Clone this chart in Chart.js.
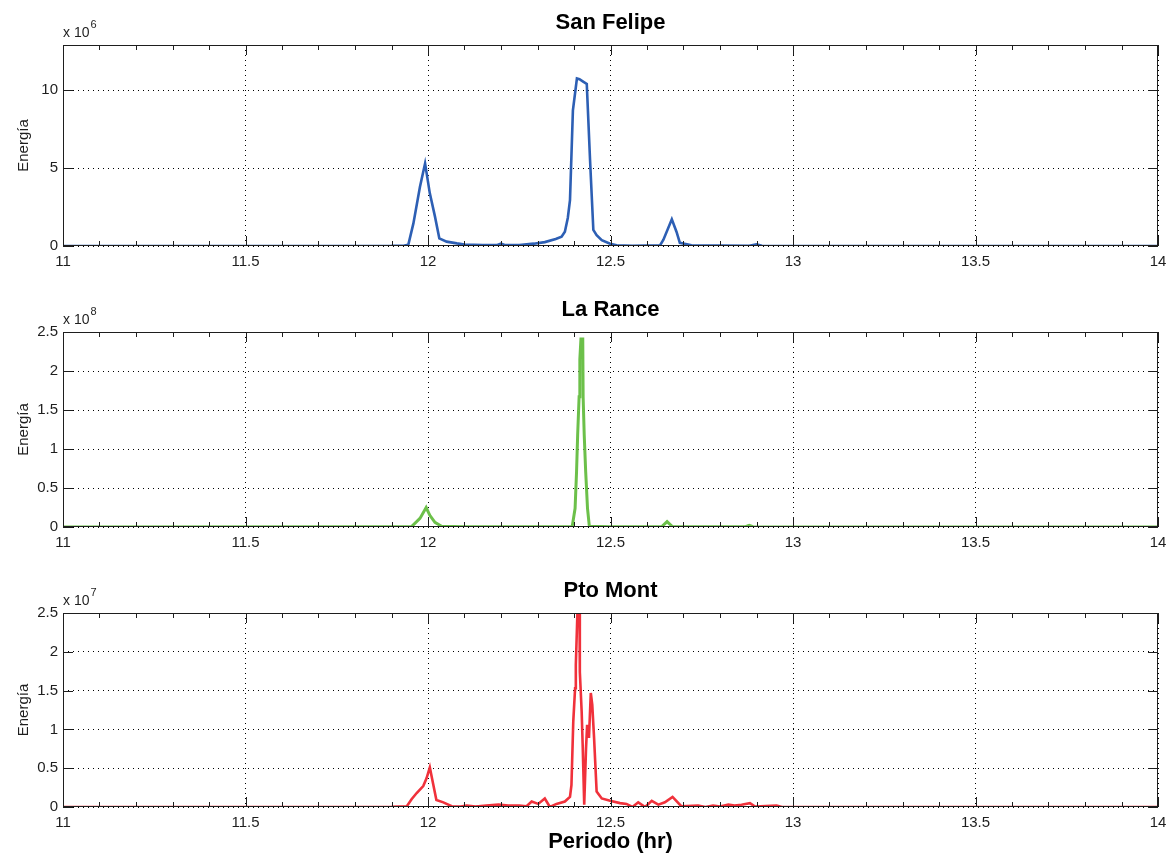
<!DOCTYPE html>
<html lang="es">
<head>
    <meta charset="UTF-8">
    <title>Energía vs Periodo</title>
    <script src="https://cdn.jsdelivr.net/npm/chart.js"></script>
    <style>
        body { margin: 0; background: #fff; }
        #figure { position: relative; width: 1166px; height: 855px; }
        .panel { position: absolute; left: 0; width: 1166px; height: 285px; }
    </style>
</head>
<body>
<div id="figure">
    <div class="panel" style="top:0px"><canvas id="sanFelipe"></canvas></div>
    <div class="panel" style="top:285px"><canvas id="laRance"></canvas></div>
    <div class="panel" style="top:570px"><canvas id="ptoMont"></canvas></div>
</div>

<script>
    // Periodo (hr) / Energía
    const periodSanFelipe = [11.00, 11.50, 11.90, 11.935, 11.946, 11.960, 11.978, 11.992, 12.005, 12.019,
        12.031, 12.051, 12.079, 12.100, 12.150, 12.190, 12.200, 12.210, 12.250, 12.290,
        12.320, 12.350, 12.366, 12.375, 12.383, 12.389, 12.397, 12.408, 12.415, 12.425,
        12.435, 12.444, 12.453, 12.462, 12.476, 12.499, 12.517, 12.560, 12.636, 12.645,
        12.668, 12.681, 12.690, 12.722, 12.880, 12.900, 12.915, 13.000, 14.00];
    // x 10^6
    const energySanFelipe = [0, 0, 0.01, 0.03, 0.07, 1.45, 3.8, 5.3, 3.38, 1.9,
        0.49, 0.28, 0.17, 0.1, 0.06, 0.06, 0.15, 0.06, 0.06, 0.15,
        0.25, 0.45, 0.6, 0.92, 1.8, 2.95, 8.7, 10.75, 10.7, 10.55,
        10.4, 5.5, 1.03, 0.7, 0.38, 0.15, 0.05, 0.02, 0.05, 0.4,
        1.71, 0.9, 0.2, 0.05, 0.02, 0.1, 0.02, 0, 0];

    const periodLaRance = [11.00, 11.90, 11.955, 11.978, 11.995, 12.005, 12.019, 12.037, 12.100, 12.395,
        12.403, 12.407, 12.410, 12.414, 12.416, 12.419, 12.424, 12.425, 12.428, 12.432,
        12.437, 12.442, 12.500, 12.640, 12.655, 12.670, 12.870, 12.880, 12.890, 14.00];
    // x 10^8
    const energyLaRance = [0, 0.002, 0.005, 0.11, 0.25, 0.15, 0.06, 0.01, 0.003, 0.003,
        0.24, 0.71, 1.18, 1.67, 2.15, 2.41, 2.41, 1.67, 1.18, 0.71,
        0.24, 0.01, 0.003, 0.003, 0.07, 0.003, 0.003, 0.02, 0.003, 0];

    const periodPtoMont = [11.00, 11.90, 11.942, 11.955, 11.969, 11.987, 11.996, 12.005, 12.014, 12.023,
        12.042, 12.065, 12.090, 12.106, 12.130, 12.160, 12.193, 12.220, 12.250, 12.270,
        12.284, 12.302, 12.320, 12.334, 12.352, 12.375, 12.384, 12.389, 12.393, 12.398,
        12.403, 12.405, 12.410, 12.415, 12.416, 12.421, 12.424, 12.428, 12.433, 12.436,
        12.441, 12.446, 12.450, 12.455, 12.462, 12.476, 12.499, 12.526, 12.544, 12.560,
        12.576, 12.595, 12.613, 12.631, 12.649, 12.670, 12.694, 12.740, 12.760, 12.781,
        12.800, 12.823, 12.840, 12.859, 12.882, 12.896, 12.955, 12.970, 14.00];
    // x 10^7
    const energyPtoMont = [0, 0.003, 0.01, 0.1, 0.18, 0.27, 0.37, 0.51, 0.3, 0.09,
        0.06, 0.01, 0.005, 0.02, 0.005, 0.02, 0.03, 0.02, 0.02, 0.01,
        0.07, 0.04, 0.11, 0.0, 0.04, 0.07, 0.11, 0.13, 0.28, 1.1,
        1.53, 1.83, 2.6, 2.6, 1.74, 1.23, 0.76, 0.03, 0.76, 1.06,
        0.89, 1.47, 1.32, 0.89, 0.2, 0.11, 0.08, 0.05, 0.04, 0.0,
        0.06, 0.0, 0.08, 0.03, 0.06, 0.13, 0.01, 0.02, 0.0, 0.02,
        0.005, 0.03, 0.02, 0.03, 0.05, 0.005, 0.02, 0.0, 0];

    const xTicks = [11, 11.5, 12, 12.5, 13, 13.5, 14];
    const yTicksSanFelipe = [0, 5, 10];
    const yTicksLaRance = [0, 0.5, 1, 1.5, 2, 2.5];
    const yTicksPtoMont = [0, 0.5, 1, 1.5, 2, 2.5];

    const FONT = '"Liberation Sans", Arial, Helvetica, sans-serif';
    const INK = '#1e1e1e';

    // box, inward ticks, title and the "x 10^n" multiplier, matlab style
    const matlabAxes = {
        id: 'matlabAxes',
        afterDraw(chart, args, opts) {
            const {ctx, chartArea: a, scales: {x, y}} = chart;
            ctx.save();
            ctx.strokeStyle = INK;
            ctx.lineWidth = 1;
            ctx.beginPath();
            for (let i = 0; i <= 30; i++) {
                const px = Math.round(x.getPixelForValue(11 + i / 10)) + 0.5;
                const len = i % 5 === 0 ? 10 : 5;
                ctx.moveTo(px, a.bottom); ctx.lineTo(px, a.bottom - len);
                ctx.moveTo(px, a.top); ctx.lineTo(px, a.top + len);
            }
            y.ticks.forEach(t => {
                const py = Math.round(y.getPixelForValue(t.value)) + 0.5;
                ctx.moveTo(a.left, py); ctx.lineTo(a.left + 10, py);
                ctx.moveTo(a.right, py); ctx.lineTo(a.right - 10, py);
            });
            ctx.stroke();
            ctx.strokeRect(Math.round(a.left) + 0.5, Math.round(a.top) + 0.5,
                Math.round(a.width) - 1, Math.round(a.height) - 1);

            ctx.fillStyle = '#000';
            ctx.font = 'bold 22px ' + FONT;
            ctx.textAlign = 'center';
            ctx.textBaseline = 'middle';
            ctx.fillText(opts.title, (a.left + a.right) / 2, a.top - 22);

            ctx.fillStyle = INK;
            ctx.textAlign = 'left';
            ctx.textBaseline = 'alphabetic';
            ctx.font = '14px ' + FONT;
            ctx.fillText('x 10', a.left, a.top - 8);
            const w = ctx.measureText('x 10').width;
            ctx.font = '11px ' + FONT;
            ctx.fillText(opts.exponent, a.left + w + 1, a.top - 17);
            ctx.restore();
        }
    };

    function makePanel(id, periods, energy, color, lineWidth, yMax, yTicks, title, exponent, padTop, padBottom, xHeight, xLabel) {
        return new Chart(document.getElementById(id), {
            type: 'line',
            data: {
                datasets: [{
                    data: periods.map((p, i) => ({x: p, y: energy[i]})),
                    borderColor: color,
                    borderWidth: lineWidth,
                    pointRadius: 0,
                    tension: 0,
                    fill: false
                }]
            },
            options: {
                responsive: true,
                maintainAspectRatio: false,
                animation: false,
                layout: { padding: { top: padTop, right: 8, bottom: padBottom, left: 0 } },
                plugins: {
                    legend: { display: false },
                    tooltip: { enabled: false },
                    matlabAxes: { title: title, exponent: exponent }
                },
                scales: {
                    x: {
                        type: 'linear',
                        min: 11,
                        max: 14,
                        afterBuildTicks: s => { s.ticks = xTicks.map(v => ({value: v})); },
                        afterFit: s => {
                            s.height = xHeight;
                            s.paddingLeft = 0;
                            s.paddingRight = 0;
                        },
                        ticks: {
                            autoSkip: false,
                            maxRotation: 0,
                            padding: 7,
                            color: INK,
                            font: { family: FONT, size: 15 },
                            format: { minimumFractionDigits: 0, maximumFractionDigits: 1 }
                        },
                        grid: { color: '#000', lineWidth: 1, drawTicks: false },
                        border: { display: false, dash: [1, 4] },
                        title: {
                            display: !!xLabel,
                            text: xLabel || '',
                            color: '#000',
                            font: { family: FONT, size: 22, weight: 'bold' },
                            padding: { top: 0, bottom: 0 }
                        }
                    },
                    y: {
                        min: 0,
                        max: yMax,
                        afterBuildTicks: s => { s.ticks = yTicks.map(v => ({value: v})); },
                        afterFit: s => { s.width = 63; },
                        ticks: {
                            padding: 5,
                            color: INK,
                            font: { family: FONT, size: 15 },
                            format: { minimumFractionDigits: 0, maximumFractionDigits: 1 }
                        },
                        grid: { color: '#000', lineWidth: 1, drawTicks: false },
                        border: { display: false, dash: [1, 4] },
                        title: {
                            display: true,
                            text: 'Energía',
                            color: INK,
                            font: { family: FONT, size: 15 },
                            padding: { top: 15, bottom: 0 }
                        }
                    }
                }
            },
            plugins: [matlabAxes]
        });
    }

    makePanel('sanFelipe', periodSanFelipe, energySanFelipe, '#2d5fb4', 2.6, 12.9, yTicksSanFelipe,
        'San Felipe', '6', 45, 9, 30, null);
    makePanel('laRance', periodLaRance, energyLaRance, '#6cc04a', 3, 2.5, yTicksLaRance,
        'La Rance', '8', 47, 13, 30, null);
    makePanel('ptoMont', periodPtoMont, energyPtoMont, '#f0313b', 2.6, 2.5, yTicksPtoMont,
        'Pto Mont', '7', 43, 0, 48, 'Periodo (hr)');
</script>
</body>
</html>
